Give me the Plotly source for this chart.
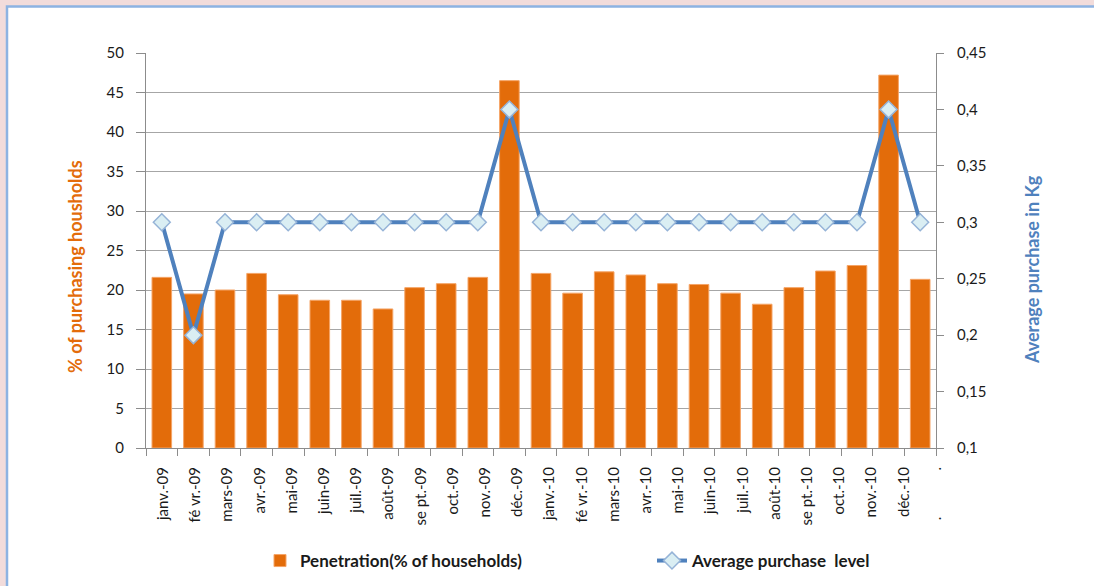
import plotly.graph_objects as go

# ---- data ----
months = ["janv.-09", "févr.-09", "mars-09", "avr.-09", "mai-09", "juin-09",
          "juil.-09", "août-09", "sept.-09", "oct.-09", "nov.-09", "déc.-09",
          "janv.-10", "févr.-10", "mars-10", "avr.-10", "mai-10", "juin-10",
          "juil.-10", "août-10", "sept.-10", "oct.-10", "nov.-10", "déc.-10",
          "janv.-11"]
tick_labels = ["janv.-09", "fé vr.-09", "mars-09", "avr.-09", "mai-09", "juin-09",
               "juil.-09", "août-09", "se pt.-09", "oct.-09", "nov.-09", "déc.-09",
               "janv.-10", "fé vr.-10", "mars-10", "avr.-10", "mai-10", "juin-10",
               "juil.-10", "août-10", "se pt.-10", "oct.-10", "nov.-10", "déc.-10",
               ".\u00a0\u00a0\u00a0\u00a0\u00a0\u00a0\u00a0\u00a0\u00a0\u00a0\u00a0\u00a0."]
penetration = [21.6, 19.5, 20.0, 22.1, 19.4, 18.7, 18.7, 17.6, 20.3, 20.8, 21.6, 46.5,
               22.1, 19.6, 22.3, 21.9, 20.8, 20.7, 19.6, 18.2, 20.3, 22.4, 23.1, 47.2,
               21.35]
avg_purchase = [0.3, 0.2, 0.3, 0.3, 0.3, 0.3, 0.3, 0.3, 0.3, 0.3, 0.3, 0.4,
                0.3, 0.3, 0.3, 0.3, 0.3, 0.3, 0.3, 0.3, 0.3, 0.3, 0.3, 0.4, 0.3]
bar_name = "Penetration(% of households)"
line_name = "Average purchase  level"
left_title = "% of purchasing housholds"
right_title = "Average purchase in Kg"

ORANGE = "#E36C0A"
BLUE = "#4F81BD"
GRID = "#A6A6A6"
AXIS = "#8C8C8C"
FONT = "Lato"

W, H = 1094, 586
L, R, T, B = 146, 158, 53, 138
PW, PH = W - L - R, H - T - B


def px_x(px):
    return (px - L) / PW


def px_y(py):
    return (H - B - py) / PH


fig = go.Figure()
fig.add_trace(go.Bar(
    x=months, y=penetration, name=bar_name,
    marker=dict(color=ORANGE, line=dict(color="#F5A466", width=1)),
    yaxis="y", xaxis="x", legend="legend",
))
fig.add_trace(go.Scatter(
    x=months, y=avg_purchase, name=line_name, mode="lines+markers",
    line=dict(color=BLUE, width=4),
    marker=dict(symbol="diamond", size=13, color="#DAEEF3",
                line=dict(color="#95B3D7", width=1.5)),
    yaxis="y2", xaxis="x", legend="legend2",
))
# invisible helper trace carrying the category label axis
fig.add_trace(go.Scatter(
    x=list(range(len(months))), y=penetration, mode="markers",
    marker=dict(opacity=0), showlegend=False, hoverinfo="skip",
    xaxis="x3", yaxis="y",
))

tickfont = dict(family=FONT, size=15, color="#1A1A1A")
legfont = dict(family=FONT, size=17, color="#1A1A1A", weight="bold")

fig.update_layout(
    width=W, height=H,
    margin=dict(l=L, r=R, t=T, b=B, autoexpand=False),
    paper_bgcolor="#F2DCDB",
    plot_bgcolor="rgba(0,0,0,0)",
    separators=", ",
    bargap=0.38,
    font=dict(family=FONT),
    xaxis=dict(
        type="category", showticklabels=False, automargin=False,
        ticks="outside", tickson="boundaries", ticklen=7, tickcolor=AXIS,
        showline=True, linecolor=AXIS, linewidth=1, showgrid=False,
        range=[-0.5, len(months) - 0.5],
    ),
    xaxis3=dict(
        overlaying="x", anchor="y", side="bottom", automargin=False,
        range=[-0.53, 24.0], tickmode="array",
        tickvals=list(range(len(tick_labels))), ticktext=tick_labels,
        tickangle=-90, ticks="", showgrid=False, zeroline=False, showline=False,
        ticklabelstandoff=15,
        tickfont=dict(family=FONT, size=15, color="#1A1A1A"),
    ),
    yaxis=dict(
        range=[0, 50], dtick=5, tick0=0, automargin=False,
        showgrid=True, gridcolor=GRID, gridwidth=1,
        ticks="outside", ticklen=9, tickcolor=AXIS,
        showline=True, linecolor=AXIS, zeroline=False,
        ticklabelstandoff=9, tickfont=tickfont,
    ),
    yaxis2=dict(
        overlaying="y", side="right", anchor="x", automargin=False,
        range=[0.1, 0.45], dtick=0.05, tick0=0.1,
        showgrid=False, zeroline=False,
        ticks="outside", ticklen=7, tickcolor=AXIS,
        showline=True, linecolor=AXIS,
        ticklabelstandoff=10, tickfont=tickfont,
    ),
    legend=dict(
        orientation="h", xref="container", yref="container",
        x=260 / W, xanchor="left", y=1 - 561 / H, yanchor="middle",
        font=legfont, bgcolor="rgba(0,0,0,0)",
    ),
    legend2=dict(
        orientation="h", xref="container", yref="container",
        x=652 / W, xanchor="left", y=1 - 561 / H, yanchor="middle",
        font=legfont, bgcolor="rgba(0,0,0,0)",
    ),
    showlegend=True,
    annotations=[
        dict(text=left_title, xref="paper", yref="paper",
             x=px_x(75), y=px_y(267), textangle=-90, showarrow=False,
             xanchor="center", yanchor="middle",
             font=dict(family=FONT, size=18, color=ORANGE, weight="bold")),
        dict(text=right_title, xref="paper", yref="paper",
             x=px_x(1032), y=px_y(270), textangle=-90, showarrow=False,
             xanchor="center", yanchor="middle",
             font=dict(family=FONT, size=18, color=BLUE, weight="bold")),
    ],
    shapes=[dict(
        type="rect", xref="paper", yref="paper", layer="below",
        x0=px_x(7), x1=px_x(1110),
        y0=px_y(620), y1=px_y(6.5),
        fillcolor="white", line=dict(color="#8DB3E2", width=2.5),
    )],
)

fig.write_html(
    "out.html",
    config={"displayModeBar": False},
    post_script="document.body.style.margin='0';document.body.style.background='#F2DCDB';",
)
